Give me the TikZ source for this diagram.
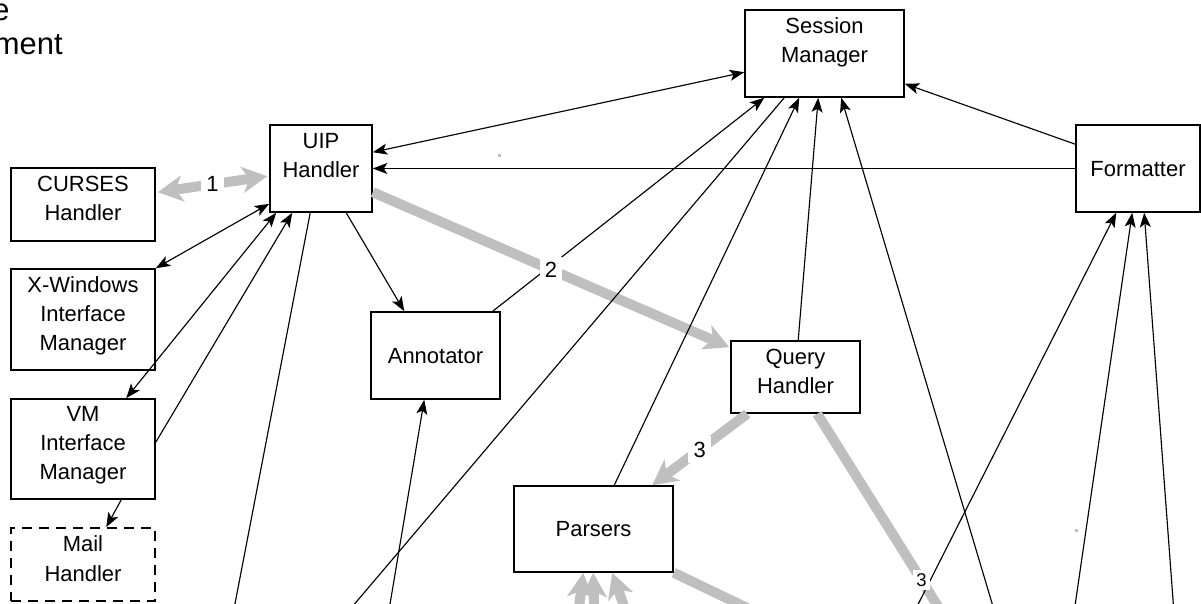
\documentclass[tikz,border=0pt]{standalone}
\usepackage{fontspec}
\setmainfont{Liberation Sans}
\usetikzlibrary{arrows.meta,calc}
\definecolor{flowgray}{RGB}{191,191,191}
\tikzset{
  >={Stealth[length=0.29cm,width=0.22cm,inset=0.07cm]},
  graytip/.tip={Stealth[length=0.5cm,width=0.52cm,inset=0.14cm]},
  box/.style={draw,line width=0.9pt,inner sep=0pt,align=center,text depth=0pt},
  multi/.style={text depth=0.24cm},
  tall/.style={text depth=0.53cm},
  link/.style={line width=0.65pt},
  flow/.style={draw=flowgray,line width=0.2cm},
  num/.style={fill=white,inner sep=3pt},
  smallnum/.style={fill=white,inner sep=2pt,font=\fontsize{10.5}{12}\selectfont}
}
\begin{document}
\begin{tikzpicture}[x=0.02cm,y=-0.02cm,font=\fontsize{12.5}{16.6}\selectfont]
\useasboundingbox (0,0) rectangle (1201,604);
\clip (0,0) rectangle (1201,604);

\node[anchor=base east,inner sep=0pt,font=\fontsize{17.6}{21}\selectfont] (titleA) at (10,21) {e};
\node[anchor=base east,inner sep=0pt,font=\fontsize{17.6}{21}\selectfont] (titleB) at (63,55) {ment};

\node[box,tall,minimum width=3.18cm,minimum height=1.74cm] (sm) at (824.5,53.5) {Session\\Manager};
\node[box,tall,minimum width=2.04cm,minimum height=1.74cm] (uip) at (321,168.5) {UIP\\Handler};
\node[box,multi,minimum width=2.88cm,minimum height=1.46cm] (curses) at (83,204.5) {CURSES\\Handler};
\node[box,multi,minimum width=2.88cm,minimum height=2.02cm] (xwin) at (83,319.5) {X-Windows\\Interface\\Manager};
\node[box,multi,minimum width=2.88cm,minimum height=2cm] (vm) at (83,449) {VM\\Interface\\Manager};
\node[box,multi,dash pattern=on 0.2cm off 0.14cm,minimum width=2.88cm,minimum height=1.46cm] (mail) at (83,564.5) {Mail\\Handler};
\node[box,minimum width=2.58cm,minimum height=1.74cm] (annot) at (435.5,355.5) {Annotator};
\node[box,multi,minimum width=2.58cm,minimum height=1.44cm] (qh) at (795.5,377) {Query\\Handler};
\node[box,minimum width=3.18cm,minimum height=1.72cm] (parsers) at (593.5,529) {Parsers};
\node[box,minimum width=2.48cm,minimum height=1.74cm] (fmt) at (1138,168.5) {Formatter};

\coordinate (uipout) at (228,640);
\coordinate (smout) at (324,640);
\coordinate (annotin) at (384,640);
\coordinate (smin) at (1003,640);
\coordinate (fmtinA) at (900,640);
\coordinate (fmtinB) at (1070,640);
\coordinate (fmtinC) at (1176,640);
\coordinate (qhout) at (959,640);
\coordinate (parsout) at (814,640);
\coordinate (pinA) at (570,680);
\coordinate (pinB) at (596,680);
\coordinate (pinC) at (650,680);

\draw[flow,graytip-graytip] ($(curses.north east)+(2,25)$) -- coordinate[midway] (n1) ($(uip.north west)+(-2,52)$);
\draw[flow,-graytip] ($(uip.north east)+(0,68)$) -- coordinate[midway] (n2) ($(qh.north west)+(-1,7)$);
\draw[flow,-graytip] ($(qh.south west)+(17,0)$) -- coordinate[midway] (n3) ($(parsers.north west)+(139,0)$);
\draw[flow] ($(qh.south west)+(87,0)$) -- coordinate[pos=0.736] (n4) (qhout);
\draw[flow] (parsers.south east) -- (parsout);
\draw[flow,-graytip] (pinA) -- ($(parsers.south west)+(70,0)$);
\draw[flow,-graytip] (pinB) -- ($(parsers.south west)+(80,0)$);
\draw[flow,-graytip] (pinC) -- ($(parsers.south west)+(99,0)$);

\draw[link,<->] ($(uip.north east)+(0,28)$) -- ($(sm.north west)+(0,63)$);
\draw[link,->] (fmt.west) -- (uip.east);
\draw[link,->] ($(fmt.north west)+(0,20)$) -- ($(sm.south east)+(0,-14)$);
\draw[link,<->] ($(uip.south west)+(0,-9)$) -- (xwin.north east);
\draw[link,<->] ($(vm.north west)+(116,0)$) -- ($(uip.south west)+(7,0)$);
\draw[link,->] ($(vm.north east)+(0,44)$) -- ($(uip.south west)+(23,0)$);
\draw[link,->] ($(vm.south west)+(111,0)$) -- ($(mail.north west)+(96,0)$);
\draw[link,->] ($(uip.south west)+(77,0)$) -- ($(annot.north west)+(34,0)$);
\draw[link] ($(uip.south west)+(41,0)$) -- (uipout);
\draw[link,->] ($(annot.north east)+(-8,0)$) -- ($(sm.south west)+(20,0)$);
\draw[link] ($(sm.south west)+(40,0)$) -- (smout);
\draw[link,->] (annotin) -- ($(annot.south west)+(54,0)$);
\draw[link,->] ($(parsers.north west)+(101,0)$) -- ($(sm.south west)+(55,0)$);
\draw[link,->] ($(qh.north west)+(68,0)$) -- ($(sm.south west)+(74,0)$);
\draw[link,->] (smin) -- ($(sm.south west)+(97,0)$);
\draw[link,->] (fmtinA) -- ($(fmt.south west)+(41,0)$);
\draw[link,->] (fmtinB) -- ($(fmt.south west)+(57,0)$);
\draw[link,->] (fmtinC) -- ($(fmt.south west)+(69,0)$);

\node[num] (lab1) at (n1) {1};
\node[num] (lab2) at (n2) {2};
\node[num] (lab3) at (n3) {3};
\node[smallnum] (lab4) at (n4) {3};

\fill[flowgray] (497.5,154.5) rectangle ++(3,3);
\fill[flowgray] (1074.5,529.5) rectangle ++(3,3);
\end{tikzpicture}
\end{document}
